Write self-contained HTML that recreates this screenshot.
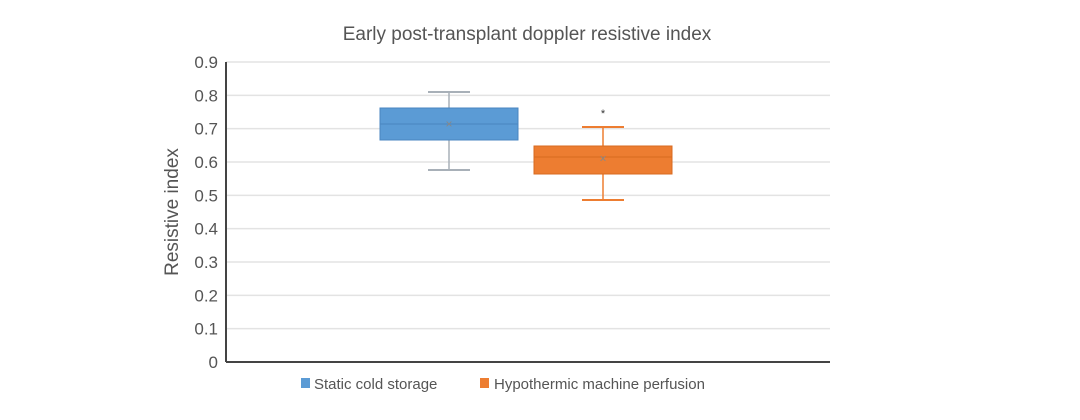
<!DOCTYPE html>
<html><head><meta charset="utf-8"><style>
body{margin:0;background:#fff;font-family:"Liberation Sans",sans-serif}
</style></head><body>
<svg id="chart" width="1080" height="415" xmlns="http://www.w3.org/2000/svg">
<text x="527" y="40" font-size="19" fill="#555" text-anchor="middle">Early post-transplant doppler resistive index</text>
<g id="grid"></g><g id="boxes"></g>
<text transform="translate(178,212) rotate(-90)" font-size="19" fill="#555" text-anchor="middle">Resistive index</text>
<g font-size="15" fill="#555">
<rect x="301" y="378" width="9" height="10" fill="#5b9bd5"/>
<text x="314" y="389">Static cold storage</text>
<rect x="480" y="378" width="9" height="10" fill="#ed7d31"/>
<text x="494" y="389">Hypothermic machine perfusion</text>
</g>
</svg>
<script>
const categories=["Static cold storage","Hypothermic machine perfusion"];
const mins=[0.576,0.486];
const q1s=[0.666,0.564];
const medians=[0.714,0.615];
const q3s=[0.762,0.648];
const maxs=[0.81,0.705];
const means=[0.714,0.61];
const outliers=[[],[0.75]];
const yTicks=[0,0.1,0.2,0.3,0.4,0.5,0.6,0.7,0.8,0.9];
const colors=["#5b9bd5","#ed7d31"];
const edges=["#4a86c0","#d86a20"];
const NS="http://www.w3.org/2000/svg";
const x0=226,x1=830,y0=362,yTop=62;
const y=v=>y0-(v/0.9)*(y0-yTop);
const cx=i=>526+(i-0.5)*154;
function mk(tag,a,p){const e=document.createElementNS(NS,tag);for(const k in a)e.setAttribute(k,a[k]);p.appendChild(e);return e;}
const g=document.getElementById('grid');
yTicks.forEach(t=>{
 if(t>0){const l=mk('line',{x1:x0,x2:x1,y1:y(t),y2:y(t),stroke:'#e3e3e3','stroke-width':1.5},g);
 
 }
 const tx=mk('text',{x:x0-8,y:y(t)+6,'font-size':17,fill:'#555','text-anchor':'end'},g);
 tx.textContent=t===0?'0':t.toFixed(1);
 
 
});
const ax=mk('line',{x1:x0,x2:x0,y1:yTop,y2:y0,stroke:'#444','stroke-width':2},g);


const bx=mk('line',{x1:x0,x2:x1,y1:y0,y2:y0,stroke:'#444','stroke-width':2},g);


const b=document.getElementById('boxes');
categories.forEach((c,i)=>{
 const c0=cx(i),hw=69,cw=21,wc=i===0?'#a8b0b8':colors[i];
 const grp=mk('g',{},b);
 
 
 mk('line',{x1:c0,x2:c0,y1:y(maxs[i]),y2:y(q3s[i]),stroke:wc,'stroke-width':1.5},grp);
 mk('line',{x1:c0,x2:c0,y1:y(q1s[i]),y2:y(mins[i]),stroke:wc,'stroke-width':1.5},grp);
 mk('line',{x1:c0-cw,x2:c0+cw,y1:y(maxs[i]),y2:y(maxs[i]),stroke:wc,'stroke-width':2},grp);
 mk('line',{x1:c0-cw,x2:c0+cw,y1:y(mins[i]),y2:y(mins[i]),stroke:wc,'stroke-width':2},grp);
 mk('rect',{x:c0-hw,y:y(q3s[i]),width:hw*2,height:y(q1s[i])-y(q3s[i]),fill:colors[i],stroke:edges[i],'stroke-width':1},grp);
 mk('line',{x1:c0-hw,x2:c0+hw,y1:y(medians[i]),y2:y(medians[i]),stroke:edges[i],'stroke-width':1},grp);
 const m=mk('text',{x:c0,y:y(means[i])+4,'font-size':12,fill:'#888','text-anchor':'middle'},grp);m.textContent='×';
 outliers[i].forEach(o=>{const s=mk('text',{x:c0,y:y(o)+5,'font-size':11,fill:'#333','text-anchor':'middle'},grp);s.textContent='*';
 
 });
});
</script>
</body></html>
